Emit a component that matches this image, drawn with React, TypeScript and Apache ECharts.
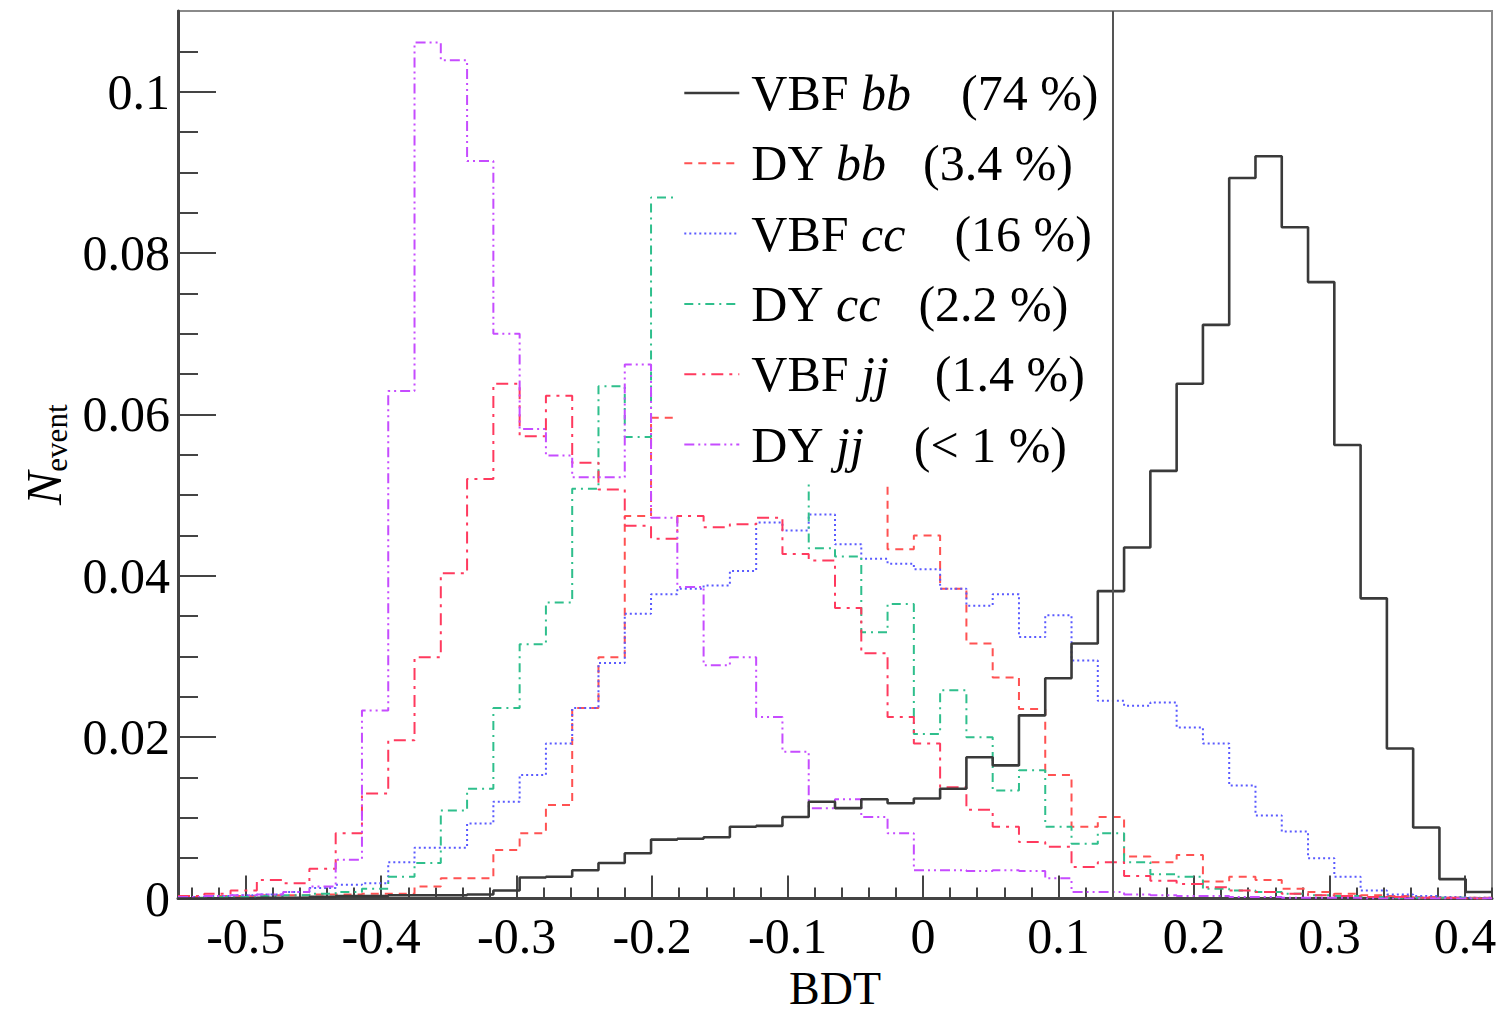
import React, { useEffect, useRef } from "react";
import * as echarts from "echarts";

// ---- axis ranges ----
const X_MIN = -0.55;
const X_MAX = 0.42;
const Y_MIN = 0;
const Y_MAX = 0.11;
const CUT_VALUE = 0.14;

// ---- tick labels ----
const xMajorTicks = [-0.5, -0.4, -0.3, -0.2, -0.1, 0, 0.1, 0.2, 0.3, 0.4];
const yMajorTicks = [0, 0.02, 0.04, 0.06, 0.08, 0.1];
const xMinorTicks = Array.from({ length: 49 }, (_, i) => Math.round((-0.54 + 0.02 * i) * 1000) / 1000);
const yMinorTicks = Array.from({ length: 22 }, (_, i) => Math.round(0.005 * i * 1000) / 1000);

// ---- legend texts ----
const seriesNames = ["VBF bb", "DY bb", "VBF cc", "DY cc", "VBF jj", "DY jj"];
const legendProcess = ["VBF", "DY", "VBF", "DY", "VBF", "DY"];
const legendFlavour = ["bb", "bb", "cc", "cc", "jj", "jj"];
const legendShare = ["(74 %)", "(3.4 %)", "(16 %)", "(2.2 %)", "(1.4 %)", "(< 1 %)"];

// ---- histogram contents (50 bins from -0.55 to 0.42) ----
const vbfBB = [
  0, 0, 0, 0.0001, 0.0001, 0.0002, 0.0003, 0.0003, 0.0004, 0.0004,
  0.0004, 0.0005, 0.001, 0.0026, 0.0027, 0.0035, 0.0044, 0.0056, 0.0073, 0.0074,
  0.0076, 0.0089, 0.009, 0.0101, 0.012, 0.0112, 0.0123, 0.0118, 0.0124, 0.0136,
  0.0175, 0.0165, 0.0227, 0.0273, 0.0316, 0.0381, 0.0435, 0.053, 0.0638, 0.0711,
  0.0893, 0.092, 0.0832, 0.0764, 0.0562, 0.0372, 0.0186, 0.0088, 0.0024, 0.0008,
];
const dyBB = [
  0.0002, 0.0003, 0.0003, 0.0004, 0.0004, 0.0005, 0.0005, 0.0006, 0.0006, 0.0015,
  0.0025, 0.0025, 0.006, 0.0081, 0.0116, 0.0236, 0.0299, 0.0474, 0.0596, 0.063,
  0.066, 0.068, 0.07, 0.071, 0.069, 0.067, 0.064, 0.0433, 0.045, 0.0384,
  0.0316, 0.0274, 0.0235, 0.0153, 0.0089, 0.0101, 0.0052, 0.0045, 0.0054, 0.0021,
  0.0027, 0.0023, 0.0012, 0.0008, 0.0006, 0.0004, 0.0003, 0.0002, 0.0001, 0.0001,
];
const vbfCC = [
  0.0002, 0.0003, 0.0004, 0.0005, 0.0008, 0.0013, 0.0017, 0.0019, 0.0045, 0.0063,
  0.0063, 0.0093, 0.012, 0.0153, 0.0192, 0.0236, 0.0292, 0.0353, 0.0377, 0.0384,
  0.0388, 0.0406, 0.0466, 0.0456, 0.0476, 0.0439, 0.0421, 0.0415, 0.0408, 0.0384,
  0.0363, 0.0377, 0.0324, 0.0351, 0.0295, 0.0245, 0.0239, 0.0243, 0.0212, 0.0192,
  0.014, 0.0103, 0.0083, 0.005, 0.0027, 0.001, 0.0005, 0.0003, 0.0002, 0.0001,
];
const dyCC = [
  0.0001, 0.0002, 0.0002, 0.0003, 0.0004, 0.0006, 0.0008, 0.0012, 0.0027, 0.0044,
  0.0109, 0.0136, 0.0236, 0.0315, 0.0367, 0.0508, 0.0635, 0.0572, 0.0869, 0.068,
  0.066, 0.064, 0.065, 0.062, 0.0434, 0.0424, 0.033, 0.0365, 0.0204, 0.0258,
  0.02, 0.0134, 0.0159, 0.0089, 0.0068, 0.0081, 0.0045, 0.003, 0.0027, 0.0012,
  0.001, 0.0008, 0.0006, 0.0004, 0.0003, 0.0002, 0.0001, 0.0001, 0.0001, 0,
];
const vbfJJ = [
  0.0003, 0.0006, 0.001, 0.0023, 0.0019, 0.0037, 0.0081, 0.013, 0.0196, 0.0299,
  0.0403, 0.052, 0.0638, 0.0573, 0.0623, 0.054, 0.0507, 0.0462, 0.0446, 0.0474,
  0.046, 0.0464, 0.0472, 0.0427, 0.0419, 0.036, 0.0304, 0.0225, 0.0192, 0.0138,
  0.011, 0.0089, 0.007, 0.0064, 0.0039, 0.0045, 0.0028, 0.0022, 0.0018, 0.0014,
  0.001, 0.0008, 0.0006, 0.0004, 0.0003, 0.0002, 0.0002, 0.0001, 0.0001, 0,
];
const dyJJ = [
  0.0002, 0.0003, 0.0004, 0.0005, 0.0008, 0.0015, 0.0048, 0.0233, 0.0629, 0.1061,
  0.1039, 0.0914, 0.07, 0.0582, 0.0549, 0.0522, 0.0522, 0.0662, 0.0472, 0.0386,
  0.0289, 0.0299, 0.0225, 0.0182, 0.0112, 0.0123, 0.0101, 0.0081, 0.0035, 0.0035,
  0.0034, 0.0035, 0.0034, 0.0025, 0.0008, 0.0008, 0.0005, 0.0004, 0.0003, 0.0003,
  0.0002, 0.0002, 0.0001, 0.0001, 0.0001, 0, 0, 0, 0, 0,
];
const allValues = [vbfBB, dyBB, vbfCC, dyCC, vbfJJ, dyJJ];

// ---- styles ----
const lineStyles: any[] = [
  { color: "#3a3a3a", width: 2.6, type: "solid" },
  { color: "#ff5252", width: 2, type: [8, 6] },
  { color: "#5a5aff", width: 2, type: [2, 3] },
  { color: "#2fbf8c", width: 2, type: [9, 5, 2, 5] },
  { color: "#ff3a5e", width: 2, type: [12, 6, 3, 6] },
  { color: "#c64cff", width: 2, type: [10, 4, 2, 4, 2, 4] },
];
const legendGaps = [50, 37, 49, 38, 46, 50];

const FONT = '"Liberation Serif", "Times New Roman", serif';

function histPoints(values: number[]) {
  const w = (X_MAX - X_MIN) / values.length;
  const pts: number[][] = values.map((v, k) => [X_MIN + k * w, v]);
  pts.push([X_MAX, values[values.length - 1]]);
  return pts;
}

export default function App() {
  const ref = useRef<HTMLDivElement>(null);

  useEffect(() => {
    if (!ref.current) return;
    const chart = echarts.init(ref.current, null, { renderer: "svg" });

    const rich: any = {
      p: { fontFamily: FONT, fontSize: 50, lineHeight: 50, color: "#000", padding: [0, 0, 0, 7] },
      f: { fontFamily: FONT, fontSize: 50, lineHeight: 50, color: "#000", fontStyle: "italic" },
      s: { fontFamily: FONT, fontSize: 50, lineHeight: 50, color: "#000" },
    };
    legendGaps.forEach((g, i) => {
      rich["g" + i] = { fontFamily: FONT, fontSize: 50, lineHeight: 50, width: g };
    });

    const series: any[] = allValues.map((vals, i) => ({
      name: seriesNames[i],
      type: "line",
      step: "end",
      data: histPoints(vals),
      symbol: "none",
      showSymbol: false,
      silent: true,
      lineStyle: lineStyles[i],
      itemStyle: { color: lineStyles[i].color },
      z: i === 0 ? 3 : 2,
      ...(i === 0
        ? {
            markLine: {
              silent: true,
              symbol: ["none", "none"],
              label: { show: false },
              lineStyle: { color: "#555", width: 2, type: "solid" },
              data: [{ xAxis: CUT_VALUE }],
            },
          }
        : {}),
    }));

    chart.setOption({
      animation: false,
      backgroundColor: "#fff",
      textStyle: { fontFamily: FONT },
      grid: {
        left: 178,
        right: 10,
        top: 11,
        bottom: 118.5,
        containLabel: false,
        outerBoundsMode: "none",
        show: true,
        borderColor: "#8a8a8a",
        borderWidth: 2,
        backgroundColor: "transparent",
      },
      legend: {
        orient: "vertical",
        left: 673,
        top: 53,
        itemWidth: 55,
        itemHeight: 10,
        itemGap: 20.3,
        padding: [15, 4, 13, 10],
        backgroundColor: "#fff",
        selectedMode: false,
        data: seriesNames.map((n, i) => ({
          name: n,
          lineStyle: { color: lineStyles[i].color, width: lineStyles[i].width, type: lineStyles[i].type },
          itemStyle: { opacity: 0 },
        })),
        formatter: (name: string) => {
          const i = seriesNames.indexOf(name);
          return `{p|${legendProcess[i]} }{f|${legendFlavour[i]}}{g${i}| }{s|${legendShare[i]}}`;
        },
        textStyle: { fontFamily: FONT, fontSize: 50, color: "#000", rich },
      },
      xAxis: [
        {
          type: "value",
          min: X_MIN,
          max: X_MAX,
          position: "bottom",
          name: "BDT",
          nameLocation: "middle",
          nameGap: 70,
          nameTextStyle: { fontFamily: FONT, fontSize: 46, lineHeight: 38, color: "#000" },
          axisLine: { show: true, onZero: false, lineStyle: { color: "#444", width: 3 } },
          axisTick: { show: true, inside: true, length: 23, customValues: xMajorTicks, lineStyle: { color: "#444", width: 2 } },
          axisLabel: { show: true, customValues: xMajorTicks, margin: 12, fontFamily: FONT, fontSize: 50, color: "#000" },
          splitLine: { show: false },
        },
        {
          type: "value",
          min: X_MIN,
          max: X_MAX,
          position: "bottom",
          axisLine: { show: false, onZero: false },
          axisTick: { show: true, inside: true, length: 11, customValues: xMinorTicks, lineStyle: { color: "#444", width: 2 } },
          axisLabel: { show: false },
          splitLine: { show: false },
        },
      ],
      yAxis: [
        {
          type: "value",
          min: Y_MIN,
          max: Y_MAX,
          position: "left",
          name: "{n|N}{s|event}",
          nameLocation: "middle",
          nameRotate: 90,
          nameGap: 105,
          nameTextStyle: {
            rich: {
              n: { fontFamily: FONT, fontSize: 50, fontStyle: "italic", color: "#000", lineHeight: 56 },
              s: { fontFamily: FONT, fontSize: 31, color: "#000", lineHeight: 30, verticalAlign: "bottom" },
            },
          },
          axisLine: { show: true, onZero: false, lineStyle: { color: "#444", width: 3 } },
          axisTick: { show: true, inside: true, length: 38, customValues: yMajorTicks, lineStyle: { color: "#444", width: 2 } },
          axisLabel: { show: true, customValues: yMajorTicks, margin: 8, fontFamily: FONT, fontSize: 50, color: "#000" },
          splitLine: { show: false },
        },
        {
          type: "value",
          min: Y_MIN,
          max: Y_MAX,
          position: "left",
          axisLine: { show: false, onZero: false },
          axisTick: { show: true, inside: true, length: 20, customValues: yMinorTicks, lineStyle: { color: "#444", width: 2 } },
          axisLabel: { show: false },
          splitLine: { show: false },
        },
      ],
      series,
    });

    return () => chart.dispose();
  }, []);

  return (
    <div
      ref={ref}
      style={{ position: "fixed", left: 0, top: 0, width: 1502, height: 1017, background: "#fff" }}
    />
  );
}
